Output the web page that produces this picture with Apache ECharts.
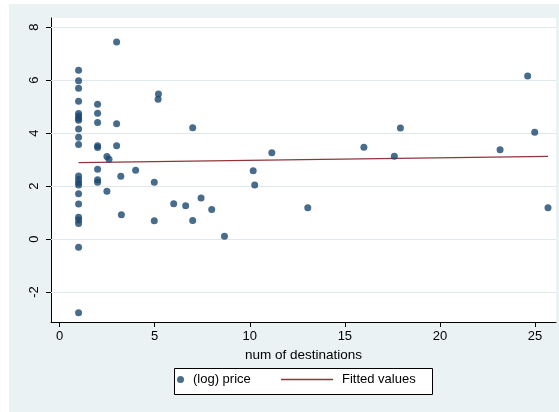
<!DOCTYPE html>
<html>
<head>
<meta charset="utf-8">
<script src="https://cdn.jsdelivr.net/npm/echarts@6/dist/echarts.min.js"></script>
<style>
  html, body { margin: 0; padding: 0; background: #ffffff; }
  #chart { position: absolute; left: 9px; top: 4px; width: 550px; height: 408px; }
</style>
</head>
<body>
<div id="chart"></div>
<script>
// Observations: number of destinations vs (log) price
const destinations = [
  1, 1, 1, 1, 1, 1, 1, 1, 1, 1, 1, 1, 1, 1, 1, 1, 1, 1, 1, 1, 1, 1,
  2, 2, 2, 2, 2, 2, 2, 2,
  2.49, 2.6, 2.49,
  3, 3, 3,
  3.22, 3.25, 4.0, 4.98, 4.98, 5.2, 5.18,
  7.0, 11.16, 10.18, 10.26, 6.0, 6.63, 7.44, 8.0, 7.0, 8.67,
  13.05, 16.0, 17.6, 17.92, 23.16, 24.98, 25.68, 24.61
];
const logPrice = [
  6.37, 5.97, 5.69, 5.20, 4.74, 4.64, 4.55, 4.48, 4.15, 3.84, 3.57, 2.38, 2.25, 2.12, 2.04, 1.71, 1.32, 0.82, 0.72, 0.59, -0.31, -2.78,
  5.09, 4.75, 4.40, 3.52, 3.45, 2.63, 2.24, 2.14,
  3.11, 3.01, 1.80,
  7.43, 4.35, 3.52,
  2.37, 0.92, 2.60, 2.14, 0.69, 5.47, 5.27,
  4.20, 3.26, 2.58, 2.04, 1.33, 1.26, 1.55, 1.11, 0.70, 0.11,
  1.18, 3.46, 3.12, 4.19, 3.37, 4.03, 1.18, 6.15
];

// Fitted regression line, evaluated at the smallest and largest x
const fittedX = [1, 25.68];
const fittedY = [2.88, 3.12];

// Axis ticks
const xTicks = [0, 5, 10, 15, 20, 25];
const yTicks = [-2, 0, 2, 4, 6, 8];

const seriesNames = ['(log) price', 'Fitted values'];

const points = destinations.map((d, i) => [d, logPrice[i]]);
const fitted = fittedX.map((d, i) => [d, fittedY[i]]);

const navy = '#1a476f';
const maroon = '#90353b';
const font = 'Liberation Sans, Arial, Helvetica, sans-serif';

const chart = echarts.init(document.getElementById('chart'), null, { renderer: 'canvas' });

chart.setOption({
  animation: false,
  backgroundColor: '#eaf2f3',
  textStyle: { fontFamily: font, color: '#000' },
  grid: {
    left: 42, top: 14, right: 3, bottom: 90,
    show: true, backgroundColor: '#ffffff', borderWidth: 0
  },
  xAxis: {
    type: 'value',
    min: -0.45, max: 26.1,
    name: 'num of destinations',
    nameLocation: 'middle',
    nameGap: 24,
    nameTextStyle: { fontFamily: font, fontSize: 13.5, color: '#000' },
    axisLine: { show: true, onZero: false, lineStyle: { color: '#000', width: 1 } },
    axisTick: { show: true, length: 5, customValues: xTicks, lineStyle: { color: '#000' } },
    axisLabel: { customValues: xTicks, margin: 8, fontFamily: font, fontSize: 13, color: '#000' },
    splitLine: { show: false }
  },
  yAxis: {
    type: 'value',
    min: -3.13, max: 8.34,
    axisLine: { show: true, onZero: false, lineStyle: { color: '#000', width: 1 } },
    axisTick: { show: true, length: 5, customValues: yTicks, lineStyle: { color: '#000' } },
    axisLabel: { customValues: yTicks, rotate: 90, margin: 10, fontFamily: font, fontSize: 13, color: '#000' },
    splitLine: { show: false }
  },
  legend: [
    {
      data: [seriesNames[0]],
      left: 168, top: 369,
      itemWidth: 7, itemHeight: 7, icon: 'circle',
      padding: 0,
      textStyle: { fontFamily: font, fontSize: 13, color: '#000', padding: [0, 0, 0, 4] },
      selectedMode: false
    },
    {
      data: [seriesNames[1]],
      left: 272, top: 369,
      itemWidth: 52, itemHeight: 1.4, icon: 'rect',
      padding: 0,
      textStyle: { fontFamily: font, fontSize: 13, color: '#000', padding: [0, 0, 0, 4] },
      selectedMode: false
    }
  ],
  graphic: [
    {
      type: 'rect',
      left: 165, top: 364,
      shape: { width: 258, height: 26 },
      style: { fill: '#ffffff', stroke: '#000', lineWidth: 1 },
      z: -1, silent: true
    }
  ],
  series: [
    {
      name: seriesNames[0],
      type: 'scatter',
      data: points,
      symbol: 'circle',
      symbolSize: 7,
      itemStyle: { color: navy },
      z: 3,
      markLine: {
        silent: true,
        symbol: ['none', 'none'],
        label: { show: false },
        lineStyle: { color: '#dfe8eb', type: 'solid', width: 1 },
        emphasis: { disabled: true },
        data: yTicks.map(v => ({ yAxis: v })),
        z: 1
      }
    },
    {
      name: seriesNames[1],
      type: 'line',
      data: fitted,
      showSymbol: false,
      symbol: 'none',
      lineStyle: { color: maroon, width: 1.3 },
      itemStyle: { color: maroon },
      z: 2
    }
  ]
});
</script>
</body>
</html>
